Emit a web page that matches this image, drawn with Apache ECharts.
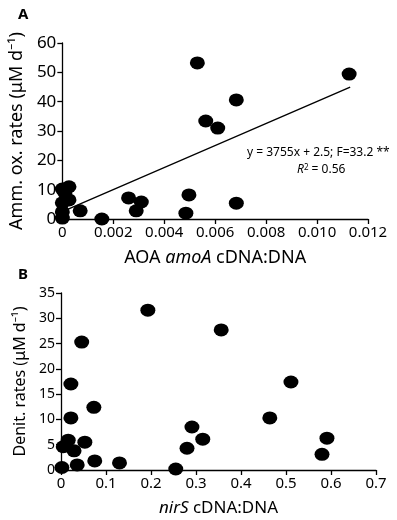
<!DOCTYPE html>
<html>
<head>
<meta charset="utf-8">
<script src="https://cdn.jsdelivr.net/npm/echarts@6/dist/echarts.min.js"></script>
<style>
  html, body { margin: 0; padding: 0; background: #fff; }
  #chart { width: 397px; height: 520px; }
</style>
</head>
<body>
<div id="chart"></div>
<script>
// panel A: AOA amoA cDNA:DNA vs ammonia oxidation rates
var amoaRatio = [0, 0.00026, 0.0001, 0.00026, 0, 0, 0, 0.0007, 0.00155, 0.0026, 0.0031, 0.0029,
  0.00497, 0.00485, 0.0053, 0.00683, 0.00563, 0.0061, 0.01126, 0.00683]
var ammOxRates = [10.2, 11, 8.9, 6.5, 5.5, 2.4, 0.3, 2.8, 0, 7.2, 5.8, 2.8,
  8.2, 2.0, 53.2, 40.6, 33.4, 31, 49.4, 5.4]
// regression from the figure: y = 3755x + 2.5
var fitSlope = 3755
var fitIntercept = 2.5
var fitRange = [0, 0.0113]

// panel B: nirS cDNA:DNA vs denitrification rates
var nirsRatio = [0.002, 0.036, 0.075, 0.13, 0.255, 0.005, 0.016, 0.029, 0.053, 0.022, 0.022,
  0.073, 0.046, 0.193, 0.356, 0.511, 0.464, 0.591, 0.58, 0.315, 0.291, 0.28]
var denitRates = [0.5, 1, 1.8, 1.4, 0.2, 4.6, 5.9, 3.8, 5.5, 10.3, 17,
  12.4, 25.3, 31.6, 27.7, 17.4, 10.3, 6.3, 3.1, 6.1, 8.5, 4.3]

var xTicksA = [0, 0.012, 0.002]
var yTicksA = [0, 60, 10]
var xTicksB = [0, 0.7, 0.1]
var yTicksB = [0, 35, 5]

var FONT = "Noto Sans"

function pairs(xs, ys) {
  return xs.map(function(x, i) { return [x, ys[i]] })
}

function axisBase(ticks, labelSize, fmt) {
  return {
    type: "value",
    min: ticks[0],
    max: ticks[1],
    interval: ticks[2],
    splitLine: { show: false },
    axisLine: { show: true, onZero: false, lineStyle: { color: "#000", width: 1.3 } },
    axisTick: { show: true, inside: false, length: 5, lineStyle: { color: "#000", width: 1.3 } },
    axisLabel: { color: "#000", fontSize: labelSize, fontFamily: FONT, margin: 6, formatter: fmt }
  }
}

var chart = echarts.init(document.getElementById("chart"))

var xA = axisBase(xTicksA, 15, function(v) { return v === 0 ? "0" : v.toFixed(3) })
xA.gridIndex = 0
xA.name = "AOA {i|amoA} cDNA:DNA"
xA.nameLocation = "middle"
xA.nameGap = 30
xA.nameTextStyle = {
  color: "#000", fontSize: 18, fontFamily: FONT,
  rich: { i: { fontStyle: "italic", fontSize: 18, fontFamily: FONT, color: "#000" } }
}

var yA = axisBase(yTicksA, 17, function(v) { return String(v) })
yA.gridIndex = 0
yA.name = "Amm. ox. rates (μM d⁻¹)"
yA.nameLocation = "middle"
yA.nameGap = 31
yA.nameTextStyle = { color: "#000", fontSize: 18, fontFamily: FONT }

var xB = axisBase(xTicksB, 15, function(v) { return v === 0 ? "0" : v.toFixed(1) })
xB.gridIndex = 1
xB.name = "{i|nirS} cDNA:DNA"
xB.nameLocation = "middle"
xB.nameGap = 30
xB.nameTextStyle = {
  color: "#000", fontSize: 17, fontFamily: FONT,
  rich: { i: { fontStyle: "italic", fontSize: 17, fontFamily: FONT, color: "#000" } }
}

var yB = axisBase(yTicksB, 14, function(v) { return String(v) })
yB.gridIndex = 1
yB.name = "Denit. rates (μM d⁻¹)"
yB.nameLocation = "middle"
yB.nameGap = 27
yB.nameTextStyle = { color: "#000", fontSize: 16, fontFamily: FONT }

var dotStyle = { color: "#000", opacity: 1 }

var option = {
  animation: false,
  backgroundColor: "#fff",
  grid: [
    { left: 60, top: 43, width: 308, height: 176 },
    { left: 61, top: 293, width: 315, height: 177 }
  ],
  xAxis: [xA, xB],
  yAxis: [yA, yB],
  series: [
    {
      type: "line",
      xAxisIndex: 0,
      yAxisIndex: 0,
      data: fitRange.map(function(x) { return [x, fitSlope * x + fitIntercept] }),
      symbol: "none",
      lineStyle: { color: "#000", width: 1.3 },
      z: 1
    },
    {
      type: "scatter",
      xAxisIndex: 0,
      yAxisIndex: 0,
      data: pairs(amoaRatio, ammOxRates),
      symbol: "circle",
      symbolSize: [15, 13],
      itemStyle: dotStyle,
      z: 3
    },
    {
      type: "scatter",
      xAxisIndex: 1,
      yAxisIndex: 1,
      data: pairs(nirsRatio, denitRates),
      symbol: "circle",
      symbolSize: [15, 13],
      itemStyle: dotStyle,
      z: 3
    }
  ],
  graphic: [
    { type: "text", left: 18, top: 7, style: { text: "A", font: "bold 15px " + FONT, fill: "#000" } },
    { type: "text", left: 18, top: 267, style: { text: "B", font: "bold 15px " + FONT, fill: "#000" } },
    {
      type: "text", left: 247, top: 147,
      style: { text: "y = 3755x + 2.5; F=33.2 **", font: "12px " + FONT, fill: "#000" }
    },
    {
      type: "text", left: 297, top: 164,
      style: {
        text: "{i|R}{s|2} = 0.56",
        font: "12px " + FONT,
        fill: "#000",
        rich: {
          i: { fontStyle: "italic", fontSize: 12, fontFamily: FONT, fill: "#000" },
          s: { fontSize: 8, fontFamily: FONT, fill: "#000", verticalAlign: "top" }
        }
      }
    }
  ]
}

chart.setOption(option)
</script>
</body>
</html>
